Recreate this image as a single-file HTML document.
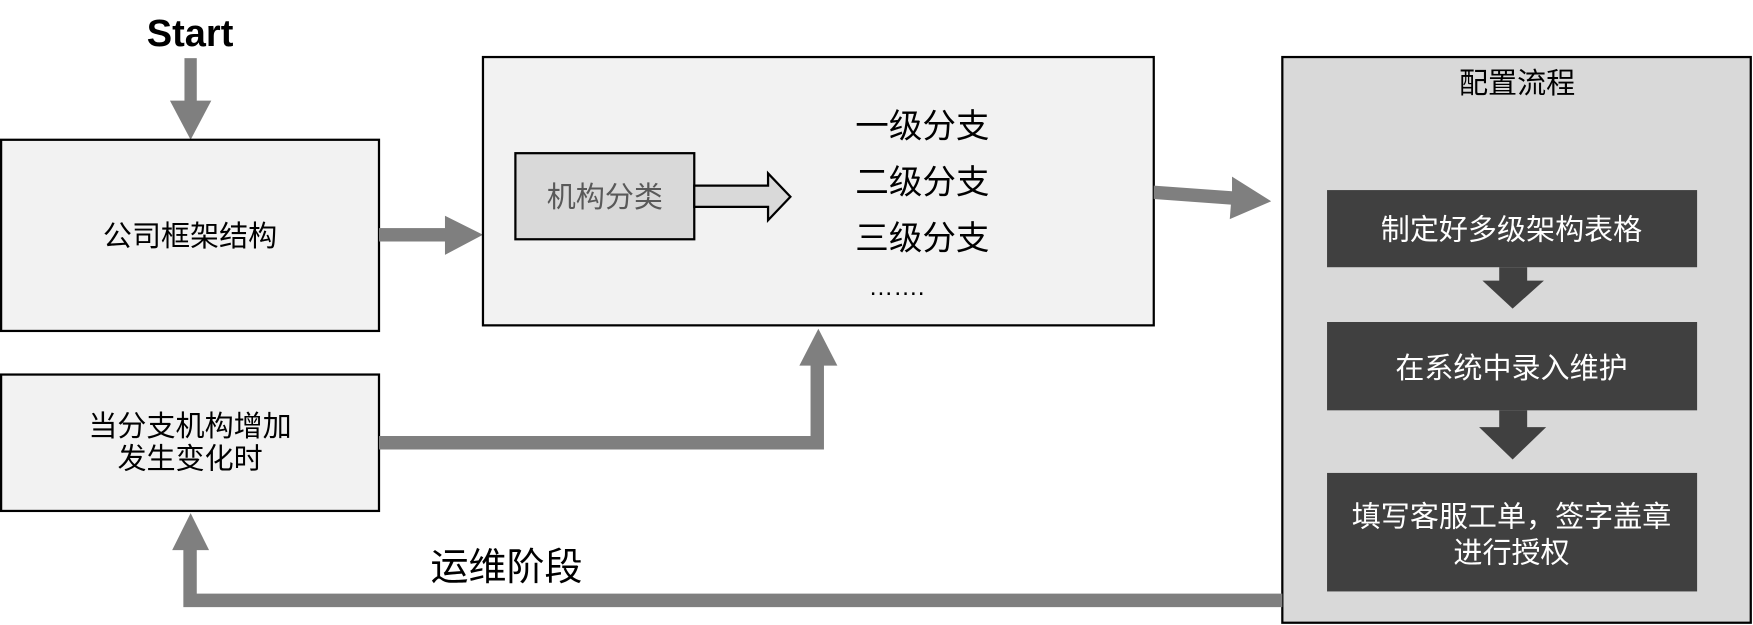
<!DOCTYPE html>
<html><head><meta charset="utf-8"><style>
html,body{margin:0;padding:0;background:#fff;width:1753px;height:625px;overflow:hidden}
svg{display:block}
text{font-family:"Liberation Sans","Noto Sans CJK SC",sans-serif}
</style></head><body>
<svg width="1753" height="625" viewBox="0 0 1568 559" xmlns="http://www.w3.org/2000/svg">
<rect width="1568" height="559" fill="#fff"/>
<text x="170" y="41" font-size="34" font-weight="bold" text-anchor="middle" fill="#000">Start</text>
<rect x="165" y="52" width="11" height="40" fill="#7f7f7f"/>
<polygon points="152,90 189,90 170.5,125" fill="#7f7f7f"/>
<rect x="1" y="125" width="338" height="171" fill="#f2f2f2" stroke="#000" stroke-width="2"/>
<text x="170" y="220" font-size="26" text-anchor="middle">公司框架结构</text>
<rect x="339" y="204" width="62" height="12" fill="#7f7f7f"/>
<polygon points="398,193 432,210 398,228" fill="#7f7f7f"/>
<rect x="432" y="51" width="600" height="240" fill="#f2f2f2" stroke="#000" stroke-width="2"/>
<rect x="461" y="137" width="160" height="77" fill="#d9d9d9" stroke="#000" stroke-width="2"/>
<text x="541" y="185" font-size="26" text-anchor="middle" fill="#595959">机构分类</text>
<polygon points="621,166 687,166 687,155 707,176 687,197 687,185 621,185" fill="#d9d9d9" stroke="#000" stroke-width="2"/>
<text x="825" y="123" font-size="30" text-anchor="middle">一级分支</text>
<text x="825" y="173" font-size="30" text-anchor="middle">二级分支</text>
<text x="825" y="223" font-size="30" text-anchor="middle">三级分支</text>
<text x="802" y="264" font-size="22" text-anchor="middle">…….</text>
<polygon points="1032,166 1102,171 1102,158 1137,180 1100,196 1101,183 1032,178" fill="#7f7f7f"/>
<rect x="1147" y="51" width="419" height="506" fill="#d9d9d9" stroke="#000" stroke-width="2"/>
<text x="1357" y="83" font-size="26" text-anchor="middle">配置流程</text>
<rect x="1187" y="170" width="331" height="69" fill="#404040"/>
<text x="1352" y="214" font-size="26" text-anchor="middle" fill="#fff">制定好多级架构表格</text>
<rect x="1341" y="239" width="25" height="13" fill="#404040"/>
<polygon points="1326,251 1381,251 1353,276" fill="#404040"/>
<rect x="1187" y="288" width="331" height="79" fill="#404040"/>
<text x="1352" y="338" font-size="26" text-anchor="middle" fill="#fff">在系统中录入维护</text>
<rect x="1341" y="367" width="25" height="16" fill="#404040"/>
<polygon points="1323,382 1383,382 1353,411" fill="#404040"/>
<rect x="1187" y="423" width="331" height="106" fill="#404040"/>
<text x="1352" y="471" font-size="26" text-anchor="middle" fill="#fff">填写客服工单，签字盖章</text>
<text x="1352" y="503" font-size="26" text-anchor="middle" fill="#fff">进行授权</text>
<rect x="1" y="335" width="338" height="122" fill="#f2f2f2" stroke="#000" stroke-width="2"/>
<text x="170" y="390" font-size="26" text-anchor="middle">当分支机构增加</text>
<text x="170" y="419" font-size="26" text-anchor="middle">发生变化时</text>
<polyline points="339,396 731,396 731,325" fill="none" stroke="#7f7f7f" stroke-width="12"/>
<polygon points="715,327 749,327 732,294" fill="#7f7f7f"/>
<polyline points="1147,537 170,537 170,490" fill="none" stroke="#7f7f7f" stroke-width="12"/>
<polygon points="154,492 187,492 170.5,459" fill="#7f7f7f"/>
<text x="453" y="519" font-size="34" text-anchor="middle">运维阶段</text>
</svg>
</body></html>
